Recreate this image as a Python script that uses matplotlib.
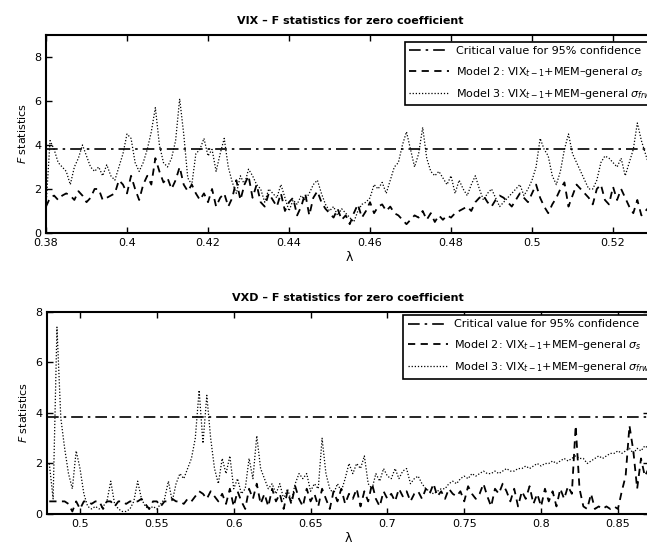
import numpy as np
import matplotlib
matplotlib.use("Agg")
import matplotlib.pyplot as plt

# critical value of F(1, n) at 95% confidence
crit_value = 3.84

# VIX panel, lambda from 0.380 to 0.530 in steps of 0.001
lam_vix = np.round(np.linspace(0.38, 0.53, 151), 4)

vix_m2 = [
    1.2, 1.6, 1.7, 1.5, 1.7, 1.8, 1.7, 1.5, 1.9, 1.7,
    1.4, 1.6, 2.0, 2.0, 1.5, 1.6, 1.7, 1.8, 2.4, 2.2,
    1.8, 2.6, 2.0, 1.5, 2.2, 2.6, 2.2, 3.4, 2.8, 2.3,
    2.5, 2.0, 2.4, 3.0, 2.2, 1.9, 2.2, 1.8, 1.5, 1.8,
    1.4, 2.0, 1.2, 1.6, 1.8, 1.2, 1.6, 2.4, 1.5, 2.2,
    2.6, 1.6, 2.2, 1.4, 1.2, 1.8, 1.5, 1.2, 1.8, 1.0,
    1.4, 1.6, 0.8, 1.2, 1.8, 0.8, 1.6, 1.9, 1.4, 1.1,
    0.9, 0.7, 1.1, 0.6, 0.8, 0.4, 0.9, 1.3, 0.7, 1.0,
    1.4, 0.9, 1.2, 1.3, 1.0, 1.2, 0.9, 0.8, 0.6, 0.4,
    0.6, 0.8, 0.7, 1.0, 0.6, 0.9, 0.5, 0.8, 0.6, 0.8,
    0.7, 0.9, 1.0, 1.1, 1.2, 1.0, 1.4, 1.6, 1.7, 1.4,
    1.2, 1.5, 1.7, 1.6, 1.4, 1.2, 1.5, 1.8, 1.6, 1.4,
    1.8, 2.2, 1.6, 1.2, 0.9, 1.3, 1.6, 2.0, 2.3, 1.2,
    1.7, 2.2, 2.0, 1.8, 1.6, 1.3, 2.0, 2.2, 1.5, 1.3,
    2.1, 1.5, 2.0, 1.6, 1.2, 0.9, 1.5, 0.8, 1.0, 1.2,
    1.0,
]

vix_m3 = [
    1.2, 4.2, 3.8, 3.2, 3.0, 2.8, 2.2, 3.0, 3.4, 4.0,
    3.5, 3.0, 2.8, 3.0, 2.6, 3.1, 2.6, 2.4, 3.0, 3.6,
    4.5, 4.3, 3.2, 2.8, 3.2, 3.8, 4.6, 5.7, 4.0, 3.2,
    3.0, 3.4, 4.2, 6.1, 4.5, 2.5, 2.2, 3.6, 3.8, 4.3,
    3.5, 3.8, 2.8, 3.6, 4.3, 3.0, 2.3, 1.8, 2.6, 2.2,
    2.9, 2.6, 2.2, 2.0, 1.4, 2.0, 1.8, 1.6, 2.2, 1.6,
    1.0, 1.5, 1.3, 1.7, 1.5, 1.8, 2.2, 2.4, 1.8, 1.3,
    1.0, 1.2, 0.8, 1.1, 0.9, 0.7, 0.5, 1.0, 1.3, 1.4,
    1.6, 2.2, 2.0, 2.3, 1.8, 2.4, 3.0, 3.2, 4.0, 4.6,
    3.8, 3.0, 3.6, 4.8, 3.4, 2.8, 2.6, 2.8, 2.5, 2.2,
    2.6, 1.8, 2.4, 2.0, 1.7, 2.2, 2.6, 2.0, 1.5, 1.8,
    2.0, 1.6, 1.2, 1.4, 1.6, 1.8, 2.0, 2.2, 1.7, 2.0,
    2.4, 3.0, 4.3, 3.8, 3.5, 2.6, 2.2, 2.8, 3.8, 4.5,
    3.6, 3.2, 2.8, 2.4, 2.0, 2.0, 2.4, 3.2, 3.5, 3.4,
    3.2, 3.0, 3.4, 2.6, 3.2, 3.8, 5.0, 4.2, 3.6, 3.0,
    2.8,
]

# VXD panel, lambda from 0.480 to 0.870 in steps of 0.0025
lam_vxd = np.round(np.linspace(0.48, 0.87, 157), 4)

vxd_m2 = [
    0.5, 0.5, 0.5, 0.5, 0.5, 0.4, 0.1, 0.5, 0.2, 0.5,
    0.5, 0.4, 0.5, 0.5, 0.2, 0.5, 0.5, 0.3, 0.5, 0.5,
    0.4, 0.5, 0.5, 0.5, 0.6, 0.4, 0.2, 0.5, 0.5, 0.3,
    0.5, 0.5, 0.6, 0.5, 0.5, 0.4, 0.6, 0.5, 0.7, 0.9,
    0.8, 0.6, 0.9, 0.7, 0.5, 0.8, 0.4, 1.0, 0.3, 0.9,
    0.5, 0.2, 1.0, 0.6, 1.2, 0.4, 0.8, 0.3, 1.0, 0.5,
    0.8, 0.2, 0.9, 0.4, 1.1, 0.6, 0.3, 1.0, 0.5, 0.8,
    0.3, 1.0, 0.6, 0.2, 0.9, 0.5, 1.0, 0.4, 0.8, 0.6,
    1.0, 0.3, 0.9, 0.5, 1.2, 0.6, 0.3, 0.9, 0.6, 0.8,
    0.5, 1.0, 0.7, 0.9, 0.5, 0.8, 0.9, 0.6, 1.0, 0.8,
    1.2, 0.7, 0.9, 0.6, 1.0, 0.8, 0.7, 0.9, 0.5, 1.1,
    0.8, 0.6, 0.8, 1.2, 0.7, 0.3, 1.0, 0.8, 1.2, 0.9,
    0.5, 1.0, 0.3, 0.9, 0.6, 1.1, 0.4, 0.8, 0.3, 1.0,
    0.5, 0.9, 0.3, 1.0, 0.6, 1.1, 0.8, 3.5, 1.0, 0.3,
    0.2, 0.8, 0.2, 0.3, 0.2, 0.3, 0.2, 0.3, 0.2, 0.9,
    1.5, 3.5, 2.5, 1.0, 2.2, 1.5, 1.8,
]

vxd_m3 = [
    2.0, 0.6, 7.4, 3.8, 2.6, 1.6, 1.0, 2.5, 1.8, 0.8,
    0.3, 0.2, 0.3, 0.2, 0.3, 0.5, 1.3, 0.4, 0.2, 0.1,
    0.1, 0.2, 0.5, 1.3, 0.6, 0.3, 0.2, 0.3, 0.2, 0.4,
    0.6, 1.3, 0.5, 1.2, 1.6, 1.4, 1.8, 2.2, 3.0, 4.9,
    2.8, 4.7, 3.0, 1.8, 1.2, 2.2, 1.6, 2.3, 1.0, 1.4,
    0.8, 1.0, 2.2, 1.4, 3.1, 1.8, 1.4, 1.0, 1.2, 0.8,
    1.2, 0.6, 1.0, 0.5, 1.2, 1.6, 1.4, 1.6, 0.9, 1.2,
    1.0, 3.0, 1.6, 1.0, 0.8, 1.2, 0.9, 1.4, 2.0, 1.6,
    2.0, 1.8, 2.3, 1.2, 1.0, 1.6, 1.3, 1.8, 1.5, 1.4,
    1.8, 1.4, 1.7, 1.8, 1.2, 1.4, 1.5, 1.2, 1.0, 0.9,
    0.8, 0.9, 1.0, 1.0, 1.2, 1.3, 1.2, 1.4, 1.5, 1.4,
    1.6, 1.5, 1.6, 1.7, 1.6, 1.6, 1.7, 1.6, 1.7, 1.8,
    1.7, 1.7, 1.8, 1.8, 1.9, 1.8, 1.9, 2.0, 1.9, 2.0,
    2.0, 2.1, 2.0, 2.1, 2.2, 2.1, 2.2, 2.3, 2.2, 2.2,
    2.0, 2.1, 2.2, 2.3, 2.2, 2.3, 2.4, 2.4, 2.5, 2.4,
    2.5, 2.6, 2.4, 2.6, 2.5, 2.7, 2.6,
]

labels = [
    "Critical value for 95% confidence",
    r"Model 2: VIX$_{t-1}$+MEM\u2013general $\sigma_s$".replace(r"\u2013", "\u2013"),
    r"Model 3: VIX$_{t-1}$+MEM\u2013general $\sigma_{frw}$".replace(r"\u2013", "\u2013"),
]

plt.rcParams["font.family"] = "DejaVu Sans"
plt.rcParams["font.size"] = 8

fig = plt.figure(figsize=(6.47, 5.46), dpi=100)

# axes run past the right edge, like the cropped scan
ax1 = fig.add_axes([0.0711, 0.5733, 0.939, 0.3626])
ax2 = fig.add_axes([0.0726, 0.0586, 0.930, 0.370])

panels = [
    (ax1, lam_vix, vix_m2, vix_m3, (0.38, 0.53), 9, [0.38, 0.4, 0.42, 0.44, 0.46, 0.48, 0.5, 0.52],
     "VIX \u2013 F statistics for zero coefficient", (0.591, 0.965)),
    (ax2, lam_vxd, vxd_m2, vxd_m3, (0.4785, 0.87), 8, [0.5, 0.55, 0.6, 0.65, 0.7, 0.75, 0.8, 0.85],
     "VXD \u2013 F statistics for zero coefficient", (0.592, 0.985)),
]

for ax, lam, m2, m3, xlim, ytop, xt, title, leg_pos in panels:
    ax.axhline(crit_value, color="black", lw=1.2, linestyle=(0, (7, 3, 1.5, 3)), label=labels[0])
    ax.plot(lam, m2, color="black", lw=1.3, linestyle=(0, (4, 3)), label=labels[1])
    ax.plot(lam, m3, color="black", lw=0.9, linestyle=(0, (1, 1.5)), label=labels[2])
    ax.set_xlim(*xlim)
    ax.set_ylim(0, ytop)
    ax.set_xticks(xt)
    ax.set_xticklabels([("%g" % t) for t in xt])
    ax.set_yticks([0, 2, 4, 6, 8])
    ax.tick_params(direction="in", top=True, right=True, length=4, width=1, labelsize=8)
    for s in ax.spines.values():
        s.set_linewidth(1.5)
    ax.set_title(title, fontsize=8, fontweight="bold", pad=8)
    ax.set_xlabel("\u03bb", fontsize=9, labelpad=2)
    ax.set_ylabel(r"$F$ statistics", fontsize=8, labelpad=4)
    leg = ax.legend(loc="upper left", bbox_to_anchor=leg_pos, borderaxespad=0, fontsize=8,
                    handlelength=3.6, handletextpad=0.6, labelspacing=0.75,
                    fancybox=False, edgecolor="black", framealpha=1)
    leg.get_frame().set_linewidth(1.2)

fig.savefig("out.png", dpi=100)
